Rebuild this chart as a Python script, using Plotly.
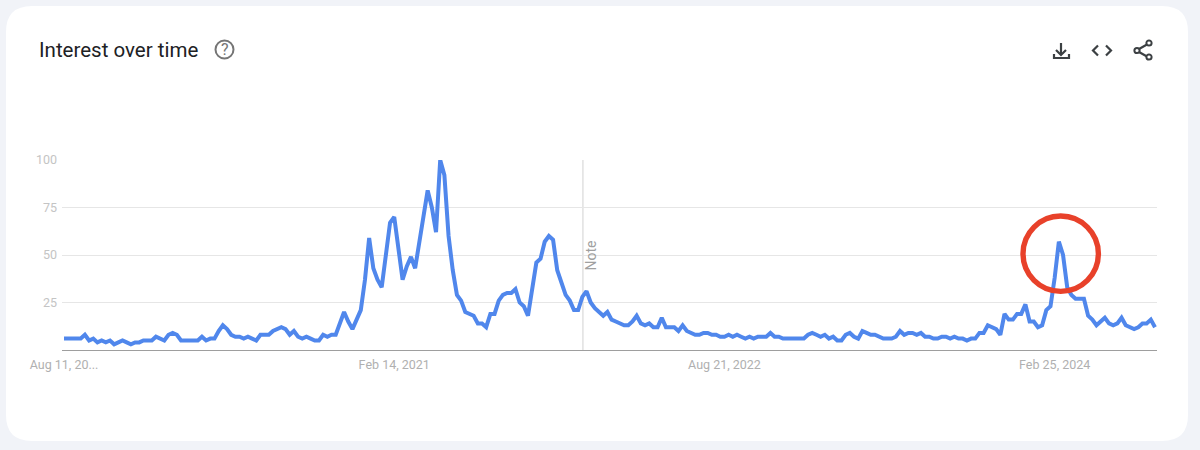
import pandas as pd
import plotly.graph_objects as go

# weekly search interest
interest_2019_2020 = [6,6,6,6,6,8,5,6,4,5,4,5,3,4,5,4,3,4,4,5,5,5,7,6,5,8,9,8,5,5,5,5,5,7,5,6,6,10,13,11,
                      8,7,7,6,7,6,5,8,8,8,10,11,12,11,8,10,7,6,7,6,5,5,8,7,8,8,14,20,15,11,16,21,37]
interest_2021 = [59,43,37,33,49,67,70,53,37,44,49,43,56,70,84,75,62,100,92,60,42,29,26,20,19,18,14,14,12,
                 19,19,26,29,30,30,32,25,23,18,32,46,48,57,60,58,42,36,29,26,21,21,28,31,25,22,20]
interest_2022_2023 = [18,20,16,15,14,13,13,15,18,14,13,14,12,12,17,12,12,12,10,13,10,9,8,8,9,9,8,8,7,7,8,7,8,7,
                      6,7,6,7,7,7,9,7,7,6,6,6,6,6,6,8,9,8,7,8,6,7,5,5,8,9,7,6,10,9,8,8,7,6,6,6,7,10,8,9,9,
                      8,9,7,7,6,6,7,7,6,7,6,6,5,6,6,9,9,13,12,11,8,19,16,16,19,19,24,15,15,12,13,21,23]
interest_2024 = [38,57,50,33,29,27,27,27,18,16,13,15,17,14,13,14,17,13,12,11,12,14,14,16,12]
interest = interest_2019_2020 + interest_2021 + interest_2022_2023 + interest_2024
weeks = pd.date_range("2019-08-11", periods=len(interest), freq="7D")

y_ticks = [25, 50, 75, 100]
x_ticks = ["2019-08-11", "2021-02-14", "2022-08-21", "2024-02-25"]
x_labels = ["Aug 11, 20...", "Feb 14, 2021", "Aug 21, 2022", "Feb 25, 2024"]
note_date = "2021-12-27"

# pixel helpers: plot area is 62..1157 across and 160..350 down
L, R, T, B = 62, 1157, 160, 350
def px(x):
    return (x - L) / (R - L)
def py(y):
    return (B - y) / (B - T)
def path(cmds):
    out = ""
    for c in cmds:
        if len(c) == 3:
            out += f"{c[0]}{px(c[1]):.5f},{py(c[2]):.5f} "
        else:
            out += f"{c[0]}{px(c[1]):.5f},{py(c[2]):.5f} {px(c[3]):.5f},{py(c[4]):.5f} "
    return out

fig = go.Figure()
fig.add_trace(go.Scatter(x=weeks, y=interest, mode="lines", line=dict(color="#5087ec", width=4), showlegend=False))

shapes = []
# white card
c0, c1, c2, c3, r = 6, 1188, 6, 441, 26
card = path([("M", c0 + r, c2), ("L", c1 - r, c2), ("Q", c1, c2, c1, c2 + r), ("L", c1, c3 - r), ("Q", c1, c3, c1 - r, c3),
             ("L", c0 + r, c3), ("Q", c0, c3, c0, c3 - r), ("L", c0, c2 + r), ("Q", c0, c2, c0 + r, c2)]) + "Z"
shapes.append(dict(type="path", path=card, xref="paper", yref="paper", fillcolor="white", line_width=0, layer="below"))
# note line
shapes.append(dict(type="line", x0=note_date, x1=note_date, y0=0, y1=1, xref="x", yref="paper",
                   line=dict(color="#dcdcdc", width=1.3), layer="below"))
# red circle
shapes.append(dict(type="circle", xref="paper", yref="paper", x0=px(1023), x1=px(1098.4), y0=py(291.4), y1=py(216),
                   line=dict(color="#e8412a", width=5.4)))
# help icon
shapes.append(dict(type="circle", xref="paper", yref="paper", x0=px(215.5), x1=px(233.5), y0=py(58.5), y1=py(40.5),
                   line=dict(color="#757575", width=2)))
icon = dict(type="path", xref="paper", yref="paper", line=dict(color="#3c4043", width=2.2))
# download, code, share
shapes.append(dict(icon, path=path([("M", 1061, 43), ("L", 1061, 54)])))
shapes.append(dict(icon, path=path([("M", 1056, 50), ("L", 1061, 55), ("L", 1066, 50)])))
shapes.append(dict(icon, path=path([("M", 1054, 54), ("L", 1054, 58), ("L", 1069, 58), ("L", 1069, 54)])))
shapes.append(dict(icon, path=path([("M", 1098, 45.5), ("L", 1093, 50.5), ("L", 1098, 55.5)])))
shapes.append(dict(icon, path=path([("M", 1106, 45.5), ("L", 1111, 50.5), ("L", 1106, 55.5)])))
shapes.append(dict(icon, path=path([("M", 1147, 44.5), ("L", 1139, 49), ("M", 1139, 52), ("L", 1147, 56.5)])))
for cx, cy in [(1149, 43), (1137, 50.5), (1149, 57)]:
    shapes.append(dict(type="circle", xref="paper", yref="paper", x0=px(cx - 2.6), x1=px(cx + 2.6), y0=py(cy + 2.6), y1=py(cy - 2.6),
                       line=dict(color="#3c4043", width=2)))

annotations = [
    dict(text="Note", x=note_date, xref="x", xshift=8.5, y=py(255), yref="paper", textangle=-90, showarrow=False,
         xanchor="center", yanchor="middle", font=dict(family="Roboto", size=14, color="#a0a0a0")),
    dict(text="?", x=px(224.5), y=py(49.5), xref="paper", yref="paper", showarrow=False,
         xanchor="center", yanchor="middle", font=dict(family="Roboto", size=16, color="#757575")),
]

fig.update_layout(
    width=1200, height=450, autosize=False,
    margin=dict(l=L, r=1200 - R, t=T, b=450 - B),
    paper_bgcolor="#f1f3f8", plot_bgcolor="rgba(0,0,0,0)",
    title=dict(text="Interest over time", x=39 / 1200, xref="container", xanchor="left", y=1 - 50 / 450, yref="container", yanchor="middle",
               font=dict(family="Roboto", size=20.5, color="#202124")),
    shapes=shapes, annotations=annotations,
    font=dict(family="Roboto"),
)
half = pd.Timedelta(days=3.35)
fig.update_xaxes(range=[weeks[0] - half, weeks[-1] + half], tickvals=x_ticks, ticktext=x_labels,
                 showgrid=False, showline=True, linecolor="#9e9e9e", linewidth=1, ticks="",
                 tickfont=dict(family="Roboto", size=12.5, color="#b0b0b0"), ticklabelstandoff=3)
fig.update_yaxes(range=[0, 100], tickvals=y_ticks, showgrid=True, gridcolor="#e6e6e6", gridwidth=1.2, zeroline=False, ticks="",
                 tickfont=dict(family="Roboto", size=12.5, color="#c4c4c4"), ticklabelstandoff=4)

fig.write_html("out.html", config=dict(displayModeBar=False), post_script="document.body.style.margin='0';")
